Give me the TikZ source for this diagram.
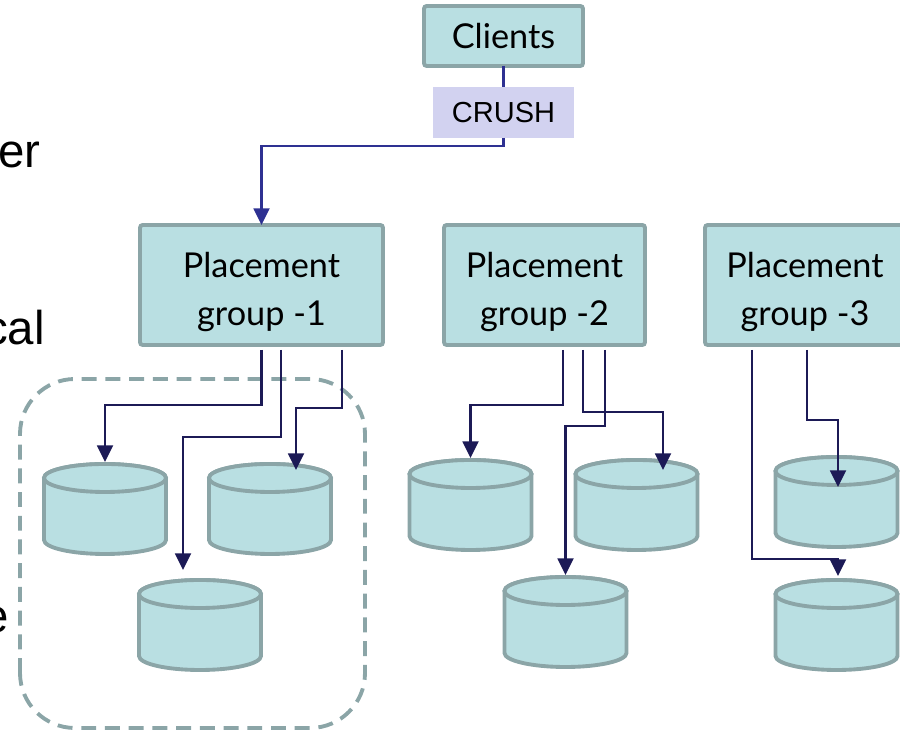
\documentclass[tikz,border=0pt]{standalone}
\usepackage{fontspec}
\setmainfont{Liberation Sans}
\newfontfamily\gillfont{Lato}
\usetikzlibrary{arrows.meta,calc}
\definecolor{boxfill}{HTML}{B9DFE2}
\definecolor{boxline}{HTML}{8BA5A7}
\definecolor{crushfill}{HTML}{D2D2F0}
\definecolor{navy}{HTML}{1C1A56}
\definecolor{linkblue}{HTML}{2E3192}

\tikzset{
  pgbox/.style={draw=boxline, fill=boxfill, line width=2.2pt, rounded corners=1.5pt, outer sep=0pt,
    align=center, font=\gillfont\fontsize{19.5}{27}\selectfont},
  flow/.style={navy, line width=1.4pt, -{Triangle[length=9.5pt,width=9pt]}},
  diskline/.style={draw=boxline, fill=boxfill, line width=2.2pt},
  disk/.pic={
    \draw[diskline] (-61,-16) -- (-61,-78) arc[start angle=180,end angle=360,x radius=61,y radius=14]
      -- (61,-16) arc[start angle=0,end angle=180,x radius=61,y radius=14] -- cycle;
    \draw[diskline] (0,-16) ellipse[x radius=61,y radius=14];
    \coordinate (-top) at (0,0);
  }
}

\begin{document}
\begin{tikzpicture}[x=0.02cm, y=0.02cm]
    \useasboundingbox (0,0) rectangle (900,733);
    \clip (0,0) rectangle (900,733);

    \node[anchor=base east, inner sep=0pt, font=\fontsize{27}{30}\selectfont] (txter) at (41,565) {er};
    \node[anchor=base east, inner sep=0pt, font=\fontsize{27}{30}\selectfont] (txtcal) at (45,388) {cal};
    \node[anchor=base east, inner sep=0pt, font=\fontsize{27}{30}\selectfont] (txte) at (9,100) {e};

    \node[pgbox, minimum width=3.18cm, minimum height=1.2cm] (clients) at (503.5,697) {Clients};
    \node[fill=crushfill, minimum width=2.82cm, minimum height=1.02cm, outer sep=0pt,
      font=\fontsize{16.5}{18}\selectfont] (crush) at (503.5,620.5) {CRUSH};
    \node[pgbox, text height=49.5pt, minimum width=4.86cm, minimum height=2.4cm] (pg1) at (261.5,448) {Placement\\group -1};
    \node[pgbox, text height=49.5pt, minimum width=4.02cm, minimum height=2.4cm] (pg2) at (544.5,448) {Placement\\group -2};
    \node[pgbox, text height=49.5pt, minimum width=4.0cm, minimum height=2.4cm] (pg3) at (805,448) {Placement\\group -3};

    \draw[boxline, line width=2.2pt, dash pattern=on 8.5pt off 5pt, rounded corners=1.1cm] (20,5) rectangle (365,354);

    \pic (dA) at (105,271) {disk};
    \pic (dB) at (270,271) {disk};
    \pic (dC) at (200,155) {disk};
    \pic (dD) at (470.5,275) {disk};
    \pic (dE) at (636.5,275) {disk};
    \pic (dF) at (565.5,158) {disk};
    \pic (dG) at (836.5,278) {disk};
    \pic (dH) at (836.5,155) {disk};

    \draw[linkblue, line width=1.4pt] (clients.south) -- (crush.north);
    \draw[flow, linkblue] (crush.south) -- ++(0,-8) -| (pg1.north);

    \draw[flow] ($(pg1.south)+(0,-5)$) -- ++(0,-55) -| (dA-top);
    \draw[flow] ($(pg1.south)+(19.5,-5)$) -- ++(0,-87) -| ($(dC-top)+(-17,8)$);
    \draw[flow] ($(pg1.south)+(80.5,-5)$) -- ++(0,-58) -| ($(dB-top)+(26,-8)$);

    \draw[flow] ($(pg2.south)+(18.5,-5)$) -- ++(0,-55) -| (dD-top);
    \draw[flow] ($(pg2.south)+(38.5,-5)$) -- ++(0,-62) -| ($(dE-top)+(26.5,-12)$);
    \draw[flow] ($(pg2.south)+(60.5,-5)$) -- ++(0,-76) -| (dF-top);

    \draw[flow] ($(pg3.south)+(2,-5)$) -- ++(0,-70) -| ($(dG-top)+(1.5,-32)$);
    \draw[flow] ($(pg3.south)+(-53,-5)$) -- ++(0,-209) -| ($(dH-top)+(1.5,2)$);
\end{tikzpicture}
\end{document}
